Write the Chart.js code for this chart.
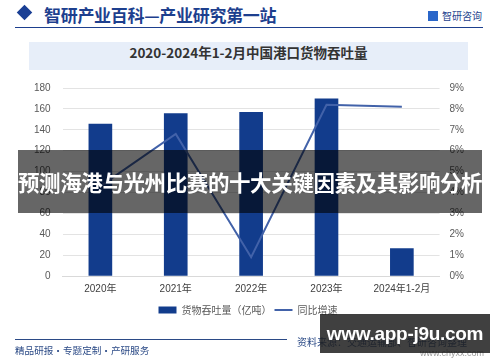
<!DOCTYPE html>
<html>
<head>
<meta charset="utf-8">
<script src="https://cdn.jsdelivr.net/npm/chart.js@4/dist/chart.umd.min.js"></script>
<style>
  body { margin: 0; width: 500px; height: 362px; overflow: hidden; background: #fff; font-family: "Liberation Sans", "Noto Sans CJK SC", sans-serif; position: relative; }
  .abs { position: absolute; }
  #diamond { left: 19px; top: 7px; width: 11px; height: 11px; background: #1a3f95; transform: rotate(45deg); }
  #head { left: 44px; top: 2px; font: bold 17px "Noto Sans CJK SC"; color: #1d3f8e; letter-spacing: -0.3px; }
  #brand { left: 428px; top: 8px; font: 10px "Noto Sans CJK SC"; color: #1d3f8e; }
  #brand span { display: inline-block; width: 10px; height: 10px; background: #2a66c9; margin-right: 4px; vertical-align: -1px; }
  #rule { left: 15px; top: 27px; width: 468px; height: 1px; background: #1d3f8e; }
  #titlebox { left: 29px; top: 42px; width: 439px; height: 28px; background: #e7eef9; text-align: center; line-height: 28px; font: bold 13.5px "Noto Sans CJK SC"; color: #333; }
  #wrap { left: 0; top: 70px; width: 500px; height: 255px; }
  #band { left: 18px; top: 150px; width: 464px; height: 63px; background: rgba(0,0,0,0.6); color: #fff; font: bold 21.5px "Noto Sans CJK SC"; text-align: center; line-height: 63px; white-space: nowrap; letter-spacing: -0.4px; overflow: hidden; }
  #foot { left: 15px; top: 343px; font: 9.6px "Noto Sans CJK SC"; color: #2b4a86; }
  #footrule { left: 15px; top: 339px; width: 272px; height: 1px; background: #2b4a86; }
  #src { left: 297px; top: 334px; font: 10px "Noto Sans CJK SC"; color: #2b4a86; }
  #srcurl { left: 420px; top: 348px; font: 9px "Liberation Sans"; color: #999; }
  #wm { left: 320px; top: 314px; width: 170px; height: 39px; background: rgba(30,30,30,0.85); color: #fff; font: bold 19px "Liberation Sans"; line-height: 39px; text-align: center; white-space: nowrap; letter-spacing: -0.3px; }
</style>
</head>
<body>
<div class="abs" id="diamond"></div>
<div class="abs" id="head">智研产业百科—产业研究第一站</div>
<div class="abs" id="brand"><span></span>智研咨询</div>
<div class="abs" id="rule"></div>
<div class="abs" id="titlebox">2020-2024年1-2月中国港口货物吞吐量</div>
<div class="abs" id="wrap"><canvas id="chart"></canvas></div>
<div class="abs" id="band">预测海港与光州比赛的十大关键因素及其影响分析</div>
<div class="abs" id="footrule"></div>
<div class="abs" id="foot">精品研报・专题定制・产研服务</div>
<div class="abs" id="src">资料来源：交通运输部、智研咨询整理</div>
<div class="abs" id="srcurl">www.chyxx.com</div>
<div class="abs" id="wm">www.app-j9u.com</div>
<script>
// data
const years = ["2020年", "2021年", "2022年", "2023年", "2024年1-2月"];
const throughput = [145.5, 155.5, 156.8, 169.7, 26.3]; // 亿吨
const growth = [4.3, 6.8, 0.9, 8.2, 8.1]; // %

const tickFont = { family: "Liberation Sans, Noto Sans CJK SC", size: 10 };

window.onload = function () {
  const ctx = document.getElementById("chart").getContext("2d");
  new Chart(ctx, {
    data: {
      labels: years,
      datasets: [
        {
          type: "line",
          label: "同比增速",
          data: growth,
          yAxisID: "y1",
          borderColor: "#4262a9",
          backgroundColor: "#4262a9",
          borderWidth: 2,
          pointRadius: 0,
          pointStyle: "line",
          tension: 0,
          order: 0,
        },
        {
          type: "bar",
          label: "货物吞吐量（亿吨）",
          data: throughput,
          yAxisID: "y",
          backgroundColor: "#123c8c",
          barThickness: 23,
          pointStyle: "rect",
          order: 1,
        },
      ],
    },
    options: {
      responsive: true,
      maintainAspectRatio: false,
      animation: false,
      layout: { padding: { left: 22, right: 26, top: 7, bottom: 0 } },
      plugins: {
        legend: {
          position: "bottom",
          reverse: true,
          labels: {
            usePointStyle: true,
            pointStyleWidth: 18,
            boxHeight: 7,
            padding: 3,
            color: "#595959",
            font: { family: "Noto Sans CJK SC", size: 10 },
          },
        },
        tooltip: { enabled: false },
      },
      scales: {
        x: {
          grid: { display: false, drawTicks: false },
          border: { color: "#d9d9d9" },
          ticks: { color: "#404040", font: tickFont, padding: 7, maxRotation: 0 },
        },
        y: {
          position: "left",
          min: 0,
          max: 180,
          ticks: { stepSize: 20, color: "#595959", font: tickFont, padding: 12 },
          grid: { color: "#e3e3e3", drawTicks: false },
          border: { display: false },
        },
        y1: {
          position: "right",
          min: 0,
          max: 9,
          ticks: { stepSize: 1, color: "#595959", font: tickFont, padding: 10, callback: (v) => v + "%" },
          grid: { display: false, drawTicks: false },
          border: { display: false },
        },
      },
    },
  });
};
</script>
</body>
</html>
